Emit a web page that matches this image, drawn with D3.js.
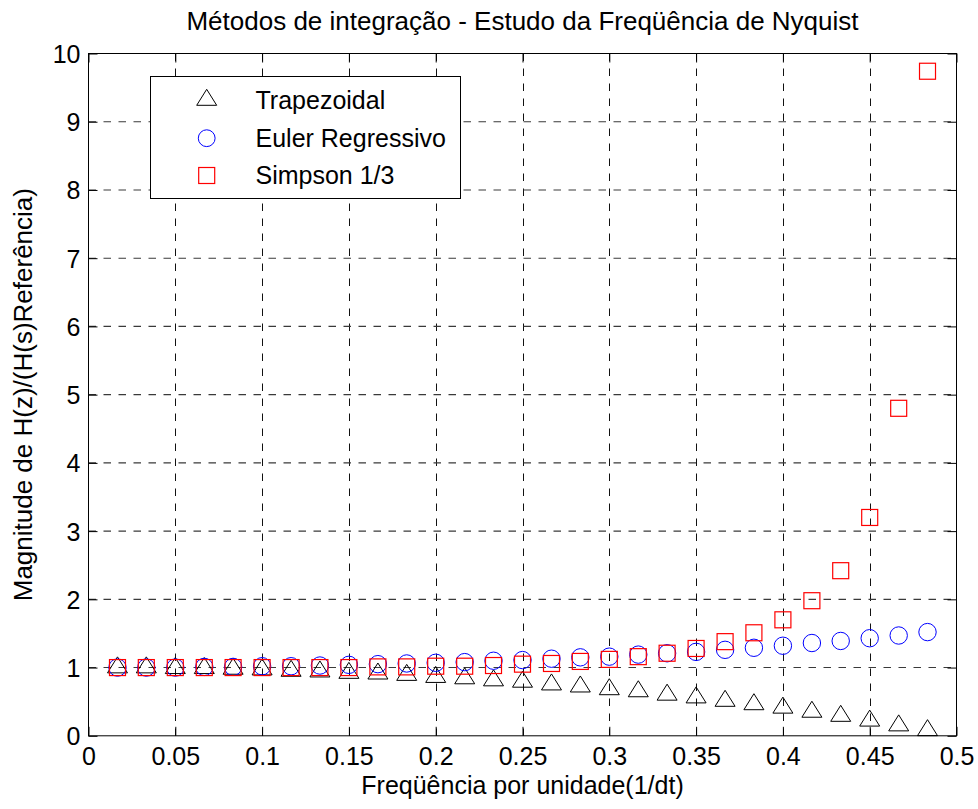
<!DOCTYPE html>
<html>
<head>
<meta charset="utf-8">
<script src="https://cdn.jsdelivr.net/npm/d3@7"></script>
<style>
  html, body { margin: 0; padding: 0; background: #fff; }
  svg { display: block; font-family: "Liberation Sans", Arial, Helvetica, sans-serif; }
</style>
</head>
<body>
<svg id="chart" width="978" height="809"></svg>
<script>
// Normalised frequency (1/dt) of each sample
const freq = [0.0167, 0.0333, 0.05, 0.0667, 0.0833, 0.1, 0.1167, 0.1333, 0.15, 0.1667,
              0.1833, 0.2, 0.2167, 0.2333, 0.25, 0.2667, 0.2833, 0.3, 0.3167, 0.3333,
              0.35, 0.3667, 0.3833, 0.4, 0.4167, 0.4333, 0.45, 0.4667, 0.4833];

// |H(z)| / |H(s)| for each integration rule
const trapezoidal = [1.00, 1.00, 0.99, 0.99, 0.98, 0.97, 0.95, 0.94, 0.92, 0.91,
                     0.89, 0.86, 0.84, 0.81, 0.79, 0.75, 0.72, 0.68, 0.65, 0.60,
                     0.56, 0.51, 0.46, 0.41, 0.35, 0.29, 0.22, 0.15, 0.08];
const eulerRegressivo = [1.00, 1.00, 1.00, 1.01, 1.01, 1.02, 1.02, 1.03, 1.04, 1.05,
                         1.06, 1.07, 1.08, 1.10, 1.11, 1.13, 1.15, 1.16, 1.19, 1.21,
                         1.23, 1.26, 1.29, 1.32, 1.36, 1.39, 1.43, 1.47, 1.52];
const simpson13 = [1.00, 1.00, 1.00, 1.00, 1.00, 1.00, 1.00, 1.00, 1.00, 1.01,
                   1.01, 1.02, 1.02, 1.03, 1.05, 1.06, 1.09, 1.12, 1.16, 1.21,
                   1.28, 1.38, 1.51, 1.70, 1.98, 2.42, 3.20, 4.80, 9.74];

const seriesNames = ["Trapezoidal", "Euler Regressivo", "Simpson 1/3"];

const xTicks = [0, 0.05, 0.1, 0.15, 0.2, 0.25, 0.3, 0.35, 0.4, 0.45, 0.5];
const xTickLabels = ["0", "0.05", "0.1", "0.15", "0.2", "0.25", "0.3", "0.35", "0.4", "0.45", "0.5"];
const yTicks = [0, 1, 2, 3, 4, 5, 6, 7, 8, 9, 10];
const yTickLabels = ["0", "1", "2", "3", "4", "5", "6", "7", "8", "9", "10"];

const titleText = "Métodos de integração - Estudo da Freqüência de Nyquist";
const xLabelText = "Freqüência por unidade(1/dt)";
const yLabelText = "Magnitude de H(z)/(H(s)Referência)";

// ---- layout ----
const L = 88.5, R = 956.5, T = 53.5, B = 735.8;
const FS = 25;
const svg = d3.select("#chart");

const x = d3.scaleLinear().domain([0, 0.5]).range([L, R]);
const y = d3.scaleLinear().domain([0, 10]).range([B, T]);

// grid
const grid = svg.append("g");
grid.selectAll("line.vg").data(xTicks.slice(1, -1)).join("line")
  .attr("x1", d => Math.round(x(d)) + 0.5).attr("x2", d => Math.round(x(d)) + 0.5)
  .attr("y1", T).attr("y2", B)
  .attr("stroke", "#111").attr("stroke-width", 1)
  .attr("stroke-dasharray", "7.5,7.5");
grid.selectAll("line.hg").data(yTicks.slice(1, -1)).join("line")
  .attr("x1", L).attr("x2", R)
  .attr("y1", d => y(d)).attr("y2", d => y(d))
  .attr("stroke", "#3a3a3a").attr("stroke-width", 1.1)
  .attr("stroke-dasharray", "7.5,7.5");

// axes (ticks point inward)
const fmtX = d => xTickLabels[xTicks.indexOf(d)];
const fmtY = d => yTickLabels[yTicks.indexOf(d)];

const axB = svg.append("g").attr("transform", `translate(0,${B})`)
  .call(d3.axisBottom(x).tickValues(xTicks).tickFormat(fmtX).tickSize(-9).tickSizeOuter(0).tickPadding(12));
const axT = svg.append("g").attr("transform", `translate(0,${T})`)
  .call(d3.axisTop(x).tickValues(xTicks).tickFormat("").tickSize(-9).tickSizeOuter(0));
const axL = svg.append("g").attr("transform", `translate(${L},0)`)
  .call(d3.axisLeft(y).tickValues(yTicks).tickFormat(fmtY).tickSize(-9).tickSizeOuter(0).tickPadding(8));
const axR = svg.append("g").attr("transform", `translate(${R},0)`)
  .call(d3.axisRight(y).tickValues(yTicks).tickFormat("").tickSize(-9).tickSizeOuter(0));

[axB, axT, axL, axR].forEach(a => {
  a.select(".domain").remove();
  a.selectAll(".tick line").attr("stroke", "#000").attr("stroke-width", 1);
  a.selectAll(".tick text").attr("fill", "#000").attr("font-size", FS)
    .attr("font-family", "Liberation Sans, Arial, sans-serif");
});
axL.selectAll(".tick text").attr("dy", "0.36em");
axB.selectAll(".tick text").attr("dy", "0.7em");

// box
svg.append("rect").attr("x", L).attr("y", T).attr("width", R - L).attr("height", B - T)
  .attr("fill", "none").attr("stroke", "#000").attr("stroke-width", 1);

// ---- markers ----
const triPath = "M0,-10.7L10,5.3L-10,5.3Z";
const rows = freq.map((f, i) => ({ f, tr: trapezoidal[i], eu: eulerRegressivo[i], si: simpson13[i] }));

const marks = svg.append("g");
marks.selectAll("path.tri").data(rows).join("path")
  .attr("class", "tri")
  .attr("d", triPath)
  .attr("transform", d => `translate(${x(d.f)},${y(d.tr)})`)
  .attr("fill", "none").attr("stroke", "#000").attr("stroke-width", 1);
marks.selectAll("circle.eu").data(rows).join("circle")
  .attr("class", "eu")
  .attr("cx", d => x(d.f)).attr("cy", d => y(d.eu)).attr("r", 8.7)
  .attr("fill", "none").attr("stroke", "#0000ff").attr("stroke-width", 1);
marks.selectAll("rect.si").data(rows).join("rect")
  .attr("class", "si")
  .attr("x", d => x(d.f) - 8).attr("y", d => y(d.si) - 8)
  .attr("width", 16).attr("height", 16)
  .attr("fill", "none").attr("stroke", "#ff0000").attr("stroke-width", 1.2);

// ---- legend ----
const lg = svg.append("g");
lg.append("rect").attr("x", 150.5).attr("y", 76.5).attr("width", 310).attr("height", 122)
  .attr("fill", "#fff").attr("stroke", "#000").attr("stroke-width", 1);
const legY = [100, 138.2, 175.5];
const mx = 206.7;
lg.append("path").attr("d", triPath).attr("transform", `translate(${mx},${legY[0]})`)
  .attr("fill", "none").attr("stroke", "#000");
lg.append("circle").attr("cx", mx).attr("cy", legY[1]).attr("r", 8.4)
  .attr("fill", "none").attr("stroke", "#0000ff");
lg.append("rect").attr("x", mx - 8).attr("y", legY[2] - 8).attr("width", 16).attr("height", 16)
  .attr("fill", "none").attr("stroke", "#ff0000").attr("stroke-width", 1.2);
lg.selectAll("text").data(seriesNames).join("text")
  .attr("x", 255.5).attr("y", (d, i) => legY[i] + 8.6)
  .attr("font-size", FS).attr("fill", "#000")
  .text(d => d);

// ---- titles ----
svg.append("text").attr("x", (L + R) / 2).attr("y", 30).attr("text-anchor", "middle")
  .attr("font-size", 26).attr("fill", "#000").text(titleText);
svg.append("text").attr("x", (L + R) / 2).attr("y", 794).attr("text-anchor", "middle")
  .attr("font-size", FS).attr("fill", "#000").text(xLabelText);
svg.append("text").attr("transform", `translate(32,${(T + B) / 2}) rotate(-90)`)
  .attr("text-anchor", "middle").attr("font-size", 26).attr("fill", "#000").text(yLabelText);
</script>
</body>
</html>
